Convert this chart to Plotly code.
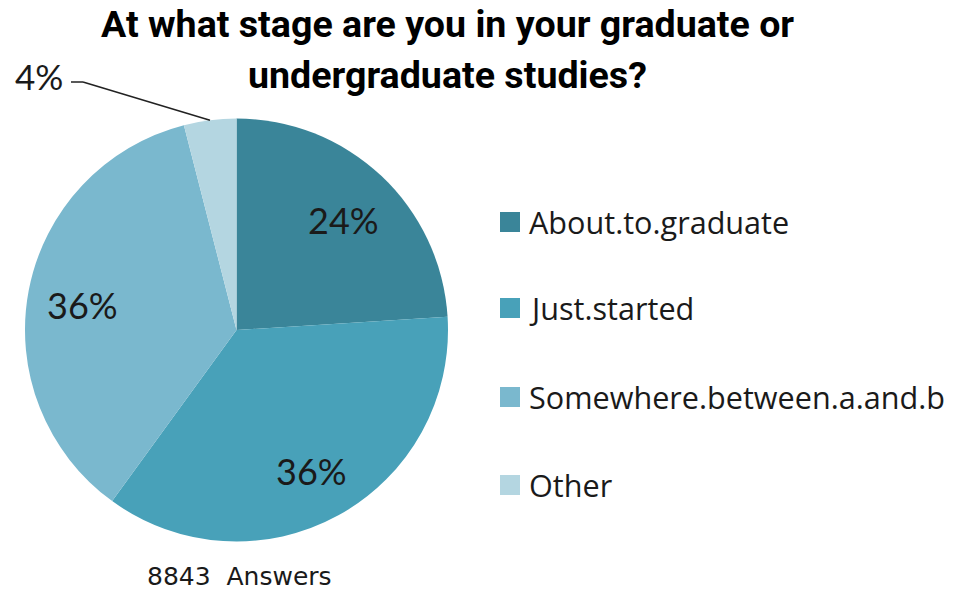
import math
import plotly.graph_objects as go

# ---- data ----
categories = ["About.to.graduate", "Just.started", "Somewhere.between.a.and.b", "Other"]
values = [24, 36, 36, 4]
colors = ["#3a8599", "#48a1b9", "#7ab8ce", "#b4d6e1"]
title_lines = ["At what stage are you in your graduate or", "undergraduate studies?"]
footnote = "8843  Answers"

W, H = 953, 591
FONT = "Lato"


def px(x):
    return x / W


def py(y):
    return 1 - y / H


# pie placement (pixels)
cx, cy, R = 236.5, 330, 211.5
dom_x = [px(cx - R), px(cx + R)]
dom_y = [py(cy + R), py(cy - R)]

fig = go.Figure()
fig.add_trace(go.Pie(
    labels=categories, values=values, sort=False, direction="clockwise",
    rotation=0, marker=dict(colors=colors, line=dict(width=0)),
    textinfo="none", hoverinfo="label+percent", showlegend=False,
    domain=dict(x=dom_x, y=dom_y),
))

annotations = []
shapes = []
total = sum(values)
cum = 0
for i, v in enumerate(values):
    mid = (cum + v / 2) / total * 2 * math.pi
    cum += v
    pct = f"{round(v / total * 100)}%"
    if v / total >= 0.1:
        r = 0.74 * R
        x = cx + r * math.sin(mid)
        y = cy - r * math.cos(mid) + 4
        annotations.append(dict(x=px(x), y=py(y), xref="paper", yref="paper",
                                text=pct, showarrow=False,
                                font=dict(family=FONT, size=36, color="#1a1a1a"),
                                xanchor="center", yanchor="middle"))
    else:
        ex = cx + R * math.sin(mid)
        ey = cy - R * math.cos(mid)
        kx, ky = 83, 82
        shapes.append(dict(type="line", xref="paper", yref="paper",
                           x0=px(ex), y0=py(ey), x1=px(kx), y1=py(ky),
                           line=dict(color="#222222", width=1.5)))
        shapes.append(dict(type="line", xref="paper", yref="paper",
                           x0=px(kx), y0=py(ky), x1=px(71), y1=py(ky),
                           line=dict(color="#222222", width=1.5)))
        annotations.append(dict(x=px(65), y=py(76), xref="paper", yref="paper",
                                text=pct, showarrow=False,
                                font=dict(family=FONT, size=35, color="#1a1a1a"),
                                xanchor="right", yanchor="middle"))

# manual legend
leg_y = [222, 308, 397, 485]
for i, lab in enumerate(categories):
    y = leg_y[i]
    shapes.append(dict(type="rect", xref="paper", yref="paper",
                       x0=px(500), x1=px(520), y0=py(y + 10), y1=py(y - 10),
                       fillcolor=colors[i], line=dict(width=0)))
    annotations.append(dict(x=px(527), y=py(y), xref="paper", yref="paper",
                            text=lab, showarrow=False,
                            font=dict(family="Open Sans", size=30.6, color="#1a1a1a"),
                            xanchor="left", yanchor="middle"))

# title lines
for t, y in zip(title_lines, [24, 75]):
    annotations.append(dict(x=px(447), y=py(y), xref="paper", yref="paper",
                            text=f"<b>{t}</b>", showarrow=False,
                            font=dict(family="Roboto", size=37.6, color="#000000"),
                            xanchor="center", yanchor="middle"))

annotations.append(dict(x=px(239), y=py(576), xref="paper", yref="paper",
                        text=footnote, showarrow=False,
                        font=dict(family="DejaVu Sans", size=25, color="#1a1a1a"),
                        xanchor="center", yanchor="middle"))

fig.update_layout(
    width=W, height=H, margin=dict(l=0, r=0, t=0, b=0),
    paper_bgcolor="white", plot_bgcolor="white",
    annotations=annotations, shapes=shapes,
)

fig.write_html("out.html", config={"displayModeBar": False},
               post_script="document.body.style.margin='0';document.body.style.overflow='hidden';")
